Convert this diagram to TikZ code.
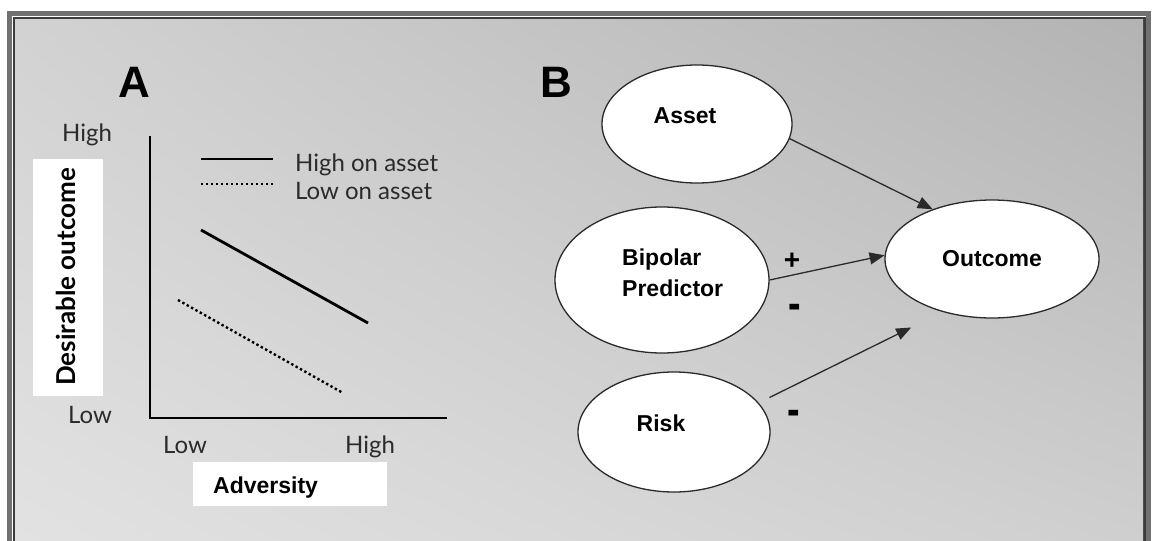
\documentclass[tikz,border=0pt]{standalone}
\usepackage{fontspec}
\usetikzlibrary{shapes.geometric,arrows.meta,shadings}
\newfontfamily\plotfont{Lato}
\newfontfamily\boxfont{Liberation Sans}

\definecolor{frameband}{HTML}{717171}
\definecolor{frameedge}{HTML}{3C3C3C}
\definecolor{bgUL}{HTML}{D2D2D2}
\definecolor{bgUR}{HTML}{B3B3B3}
\definecolor{bgLL}{HTML}{E2E2E2}
\definecolor{bgLR}{HTML}{CFCFCF}
\definecolor{labelgray}{HTML}{2B2B2B}
\definecolor{inkgray}{HTML}{2A2A2A}

\tikzset{
  plotlabel/.style={font=\plotfont\fontsize{24}{24}\selectfont, text=labelgray, inner sep=0pt},
  panelletter/.style={font=\boxfont\bfseries\fontsize{44}{44}\selectfont, inner sep=0pt},
  boldlabel/.style={font=\boxfont\bfseries\fontsize{23}{27}\selectfont, inner sep=0pt},
  signlabel/.style={font=\boxfont\bfseries\fontsize{28}{28}\selectfont, inner sep=0pt},
  minuslabel/.style={signlabel, xscale=1.35, yscale=1.7},
  whitebox/.style={fill=white, draw=none},
  factor/.style={ellipse, draw=inkgray, line width=1.3pt, fill=white, inner sep=0pt},
  axisline/.style={line width=2.6pt, black},
  highline/.style={line width=2.8pt, black},
  lowline/.style={line width=2.4pt, black, dash pattern=on 2.4pt off 2.6pt},
  effect/.style={line width=1.3pt, inkgray, -{Triangle[length=15pt,width=12pt]}},
}

\begin{document}
\begin{tikzpicture}[x=1pt,y=-1pt]
  \useasboundingbox (0,0) rectangle (1152,541);
  \fill[white] (0,0) rectangle (1152,541);

  % frame
  \fill[frameband] (7,11) rectangle (1151,541);
  \fill[white] (12,16) rectangle (1146,541);
  \fill[frameedge] (13,17) rectangle (1146,541);
  \shade[upper left=bgUL, upper right=bgUR, lower left=bgLL, lower right=bgLR]
    (15,19) rectangle (1143,541);

  % ---------- panel A ----------
  \node[panelletter, anchor=base] (letterA) at (134,97) {A};

  \fill[whitebox] (33,159) rectangle (103,396);
  \node[font=\plotfont\bfseries\fontsize{26}{26}\selectfont, text=black, inner sep=0pt,
        rotate=90] (yname) at (66,277) {Desirable outcome};

  \node[plotlabel, anchor=base] (yhigh) at (87,141) {High};
  \node[plotlabel, anchor=base] (ylow) at (90,423) {Low};
  \node[plotlabel, anchor=base] (xlow) at (185,453) {Low};
  \node[plotlabel, anchor=base] (xhigh) at (370,453) {High};

  \fill[whitebox] (193,462) rectangle (387,506);
  \node[boldlabel, anchor=base west] (xname) at (213,493) {Adversity};

  \draw[axisline] (150,136) -- (150,418) -- (447,418);

  % legend
  \draw[highline] (201,159) -- (273,159);
  \draw[lowline] (201,184) -- (273,184);
  \node[plotlabel, anchor=base west] (leghigh) at (295,171) {High on asset};
  \node[plotlabel, anchor=base west] (leglow) at (295,199) {Low on asset};

  % outcome lines
  \draw[highline] (201,230) -- (368,323);
  \draw[lowline] (178,300) -- (343,393);

  % ---------- panel B ----------
  \node[panelletter, anchor=base] (letterB) at (556,97) {B};

  \node[factor, minimum width=190pt, minimum height=118pt] (asset) at (697,124) {};
  \node[factor, minimum width=214pt, minimum height=146pt] (bipolar) at (662,280) {};
  \node[factor, minimum width=214pt, minimum height=118pt] (outcome) at (992,259) {};
  \node[factor, minimum width=192pt, minimum height=120pt] (risk) at (674,432) {};

  \node[boldlabel, anchor=base] (assettext) at (685,123) {Asset};
  \node[boldlabel, anchor=base west] (bipolartext) at (622,265) {Bipolar};
  \node[boldlabel, anchor=base west] (predictortext) at (622,296) {Predictor};
  \node[boldlabel, anchor=base] (outcometext) at (992,266) {Outcome};
  \node[boldlabel, anchor=base] (risktext) at (661,431) {Risk};

  \draw[effect] (asset.-9) -- (outcome.140);
  \draw[effect] (bipolar.east) -- (outcome.178);
  \draw[effect, shorten <=12pt, shorten >=35pt] (risk.19) -- (outcome.227);

  \node[signlabel] (plussign) at (792,261) {+};
  \node[minuslabel] (minussign) at (795,312) {-};
  \node[minuslabel] (risksign) at (794,418) {-};
\end{tikzpicture}
\end{document}
